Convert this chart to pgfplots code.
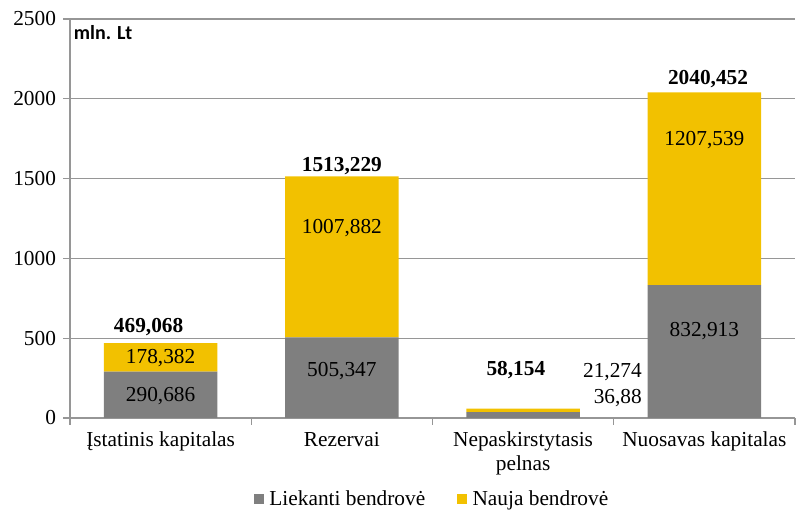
\documentclass[border=0pt]{standalone}
\usepackage{fontspec}
\setmainfont{Liberation Serif}
\newfontfamily\calibri{Carlito}
\usepackage{pgfplots}
\pgfplotsset{compat=1.18}
\definecolor{barg}{RGB}{127,127,127}
\definecolor{bary}{RGB}{242,193,0}
\definecolor{gridc}{RGB}{150,150,150}
\begin{document}
\begin{tikzpicture}
\begin{axis}[
 width=543.75pt, height=299.25pt, scale only axis,
 ybar stacked, bar width=85pt,
 xmin=-0.5, xmax=3.5, ymin=0, ymax=2500,
 xtick={0,1,2,3},
 xticklabels={Įstatinis kapitalas, Rezervai, {Nepaskirstytasis\\pelnas}, Nuosavas kapitalas},
 x tick label style={align=center, font=\fontsize{16}{18}\selectfont, yshift=-2pt},
 major x tick style={draw=none},
 minor xtick={-0.5,0.5,1.5,2.5,3.5},
 minor x tick style={draw=gridc, line width=1pt},
 minor tick length=5pt,
 ytick={0,500,1000,1500,2000,2500},
 y tick label style={font=\fontsize{16}{18}\selectfont, xshift=-2pt},
 /pgf/number format/assume math mode=true,
 /pgf/number format/set thousands separator={},
 ymajorgrids, grid style={draw=gridc, line width=1pt},
 axis x line*=bottom, axis y line*=left,
 axis line style={draw=gridc, line width=1pt, -},
 tick align=outside, major tick length=5pt,
 tick style={draw=gridc, line width=1pt},
 legend style={at={(0.5,-0.168)}, anchor=north, draw=none, legend columns=2,
   font=\fontsize{16}{18}\selectfont, column sep=2pt,
   /tikz/every even column/.append style={column sep=22pt}},
 legend image code/.code={\fill[#1] (2pt,-3.75pt) rectangle (9.5pt,3.75pt);},
 clip=false,
]
\addplot[fill=barg, draw=none] coordinates {(0,290.686) (1,505.347) (2,36.88) (3,832.913)};
\addplot[fill=bary, draw=none] coordinates {(0,178.382) (1,1007.882) (2,21.274) (3,1207.539)};
\legend{Liekanti bendrovė, Nauja bendrovė}
\coordinate (l1) at (axis cs:0,140);
\coordinate (l2) at (axis cs:0,375);
\coordinate (l3) at (axis cs:1,292);
\coordinate (l4) at (axis cs:1,1190);
\coordinate (l5) at (axis cs:3,545);
\coordinate (l6) at (axis cs:3,1742);
\node[font=\fontsize{16}{18}\selectfont, inner sep=0pt, anchor=east] at (axis cs:2.656,288) {21,274};
\node[font=\fontsize{16}{18}\selectfont, inner sep=0pt, anchor=east] at (axis cs:2.656,125) {36,88};
\node[font=\fontsize{16}{18}\selectfont\bfseries, inner sep=0pt] at (axis cs:-0.066,570) {469,068};
\node[font=\fontsize{16}{18}\selectfont\bfseries, inner sep=0pt] at (axis cs:1,1579) {1513,229};
\node[font=\fontsize{16}{18}\selectfont\bfseries, inner sep=0pt] at (axis cs:1.96,301) {58,154};
\node[font=\fontsize{16}{18}\selectfont\bfseries, inner sep=0pt] at (axis cs:3.02,2124) {2040,452};
\node[anchor=north west, inner sep=0pt, font=\calibri\bfseries\fontsize{15}{17}\selectfont] at (axis cs:-0.48,2460) {mln. Lt};
\end{axis}
\begin{scope}[every node/.style={font=\fontsize{16}{18}\selectfont, inner sep=0pt}]
\node at (l1) {290,686};
\node at (l2) {178,382};
\node at (l3) {505,347};
\node at (l4) {1007,882};
\node at (l5) {832,913};
\node at (l6) {1207,539};
\end{scope}
\pgfresetboundingbox
\useasboundingbox ([xshift=-52.5pt,yshift=-69.75pt]current axis.south west) rectangle ([xshift=4.5pt,yshift=14.25pt]current axis.north east);
\end{tikzpicture}
\end{document}
